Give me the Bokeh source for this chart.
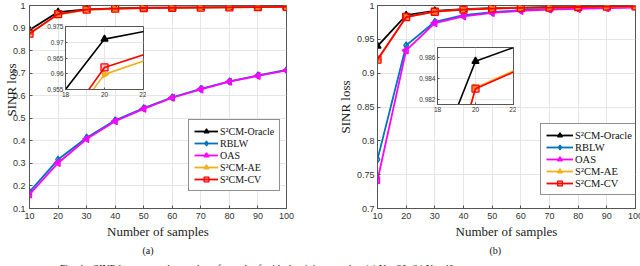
import numpy as np
from bokeh.plotting import figure
from bokeh.layouts import column
from bokeh.models import (Range1d, FixedTicker, Legend, LegendItem, Title,
                          GridBox, Div)
from bokeh.embed import file_html
from bokeh.resources import INLINE

# ---------------- data ----------------
samples = [10, 20, 30, 40, 50, 60, 70, 80, 90, 100]
series_names = ["S\u00b2CM-Oracle", "RBLW", "OAS", "S\u00b2CM-AE", "S\u00b2CM-CV"]

# panel (a)
oracle_a = [0.891, 0.971, 0.983, 0.987, 0.990, 0.991, 0.992, 0.993, 0.994, 0.995]
rblw_a = [0.174, 0.317, 0.414, 0.491, 0.545, 0.593, 0.630, 0.664, 0.690, 0.714]
oas_a = [0.162, 0.302, 0.408, 0.487, 0.542, 0.591, 0.628, 0.662, 0.688, 0.712]
ae_a = [0.877, 0.9598, 0.981, 0.985, 0.988, 0.990, 0.991, 0.992, 0.993, 0.994]
cv_a = [0.875, 0.962, 0.982, 0.986, 0.989, 0.990, 0.991, 0.992, 0.993, 0.994]

# panel (b)
oracle_b = [0.940, 0.9856, 0.9921, 0.9945, 0.996, 0.997, 0.9975, 0.998, 0.9985, 0.999]
rblw_b = [0.7726, 0.941, 0.9759, 0.9857, 0.990, 0.993, 0.995, 0.996, 0.997, 0.998]
oas_b = [0.7417, 0.9337, 0.974, 0.984, 0.989, 0.992, 0.994, 0.995, 0.996, 0.997]
ae_b = [0.920, 0.9831, 0.991, 0.994, 0.9955, 0.9965, 0.997, 0.9978, 0.9983, 0.9988]
cv_b = [0.920, 0.9830, 0.9908, 0.9938, 0.9955, 0.9965, 0.997, 0.9978, 0.9983, 0.9988]

# ticks
xticks_main = [10, 20, 30, 40, 50, 60, 70, 80, 90, 100]
yticks_a = [0.1, 0.2, 0.3, 0.4, 0.5, 0.6, 0.7, 0.8, 0.9, 1.0]
ylabels_a = ["0.1", "0.2", "0.3", "0.4", "0.5", "0.6", "0.7", "0.8", "0.9", "1"]
yticks_b = [0.7, 0.75, 0.8, 0.85, 0.9, 0.95, 1.0]
ylabels_b = ["0.7", "0.75", "0.8", "0.85", "0.9", "0.95", "1"]
xticks_inset = [18, 20, 22]
yticks_inset_a = [0.955, 0.96, 0.965, 0.97, 0.975]
ylabels_inset_a = ["0.955", "0.96", "0.965", "0.97", "0.975"]
yticks_inset_b = [0.982, 0.984, 0.986]
ylabels_inset_b = ["0.982", "0.984", "0.986"]

caption = ("Fig. 4.&nbsp;&nbsp; SINR loss versus the number of samples for ideal training "
           "samples: (a) N = 20, (b) N = 40.")

# ---------------- styles ----------------
colors = ["#000000", "#0072BD", "#FF00FF", "#EDB120", "#FF0000"]
markers = ["triangle", "diamond", "triangle", "triangle", "square"]
angles = [0.0, 0.0, np.pi / 2, -np.pi / 2, 0.0]
fill_alphas = [1.0, 0.35, 0.7, 1.0, 0.25]
AX = "#555555"
SANS = "Liberation Sans"
SERIF = "Liberation Serif"
GRID = "#e6e6e6"


def style_axes(p, font_size, standoff, tick_in=3):
    for ax in p.axis:
        ax.major_tick_in = tick_in
        ax.major_tick_out = 0
        ax.minor_tick_line_color = None
        ax.axis_line_color = AX
        ax.major_tick_line_color = AX
        ax.major_label_text_font = SANS
        ax.major_label_text_font_size = font_size
        ax.major_label_text_color = "#333333"
        ax.major_label_standoff = standoff
    p.outline_line_color = AX
    p.outline_line_width = 1
    p.xgrid.grid_line_color = GRID
    p.ygrid.grid_line_color = GRID


def draw_series(p, ys, lw=1.8, size=7):
    items = []
    for name, y, c, m, a, fa in zip(series_names, ys, colors, markers, angles, fill_alphas):
        r_line = p.line(samples, y, line_color=c, line_width=lw)
        r_mark = p.scatter(samples, y, marker=m, angle=a, size=size,
                           line_color=c, line_width=1.3, fill_color=c, fill_alpha=fa)
        items.append(LegendItem(label=name, renderers=[r_line, r_mark]))
    return items


def set_label(ax, lab, standoff):
    ax.axis_label = lab
    ax.axis_label_text_font = SERIF
    ax.axis_label_text_font_size = "13px"
    ax.axis_label_text_font_style = "normal"
    ax.axis_label_text_color = "#1a1a1a"
    ax.axis_label_standoff = standoff


def main_panel(ys, yrange, yticks, ylabels, border_left, border_right,
               tick_standoff, legend_loc, legend_font, glyph_w, sub_label,
               sub_offset, with_ylabel):
    p = figure(width=320, height=256, x_range=Range1d(10, 100),
               y_range=Range1d(*yrange), output_backend="svg",
               toolbar_location=None, min_border_left=border_left,
               min_border_right=border_right, min_border_top=5,
               min_border_bottom=47, background_fill_color="white",
               border_fill_color="white")
    p.xaxis.ticker = FixedTicker(ticks=xticks_main)
    p.yaxis.ticker = FixedTicker(ticks=yticks)
    p.yaxis.major_label_overrides = dict(zip(yticks, ylabels))
    style_axes(p, "9px", tick_standoff)
    p.xaxis.major_label_standoff = 4
    set_label(p.xaxis[0], "Number of samples", 2)
    if with_ylabel:
        set_label(p.yaxis[0], "SINR loss", 1)

    items = draw_series(p, ys)
    legend = Legend(items=items, location=legend_loc)
    legend.label_text_font = SERIF
    legend.label_text_font_size = legend_font
    legend.label_text_color = "#111111"
    legend.border_line_color = "#222222"
    legend.border_line_width = 1
    legend.background_fill_alpha = 1
    legend.glyph_width = glyph_w
    legend.glyph_height = 12
    legend.label_height = 12
    legend.label_standoff = 2
    legend.spacing = 0
    legend.padding = 5
    legend.margin = 0
    p.add_layout(legend)

    t = Title(text=sub_label, align="left", offset=sub_offset,
              text_font=SERIF, text_font_size="10px", text_font_style="normal",
              text_color="#111111", standoff=2)
    p.add_layout(t, "below")
    return p


def inset_panel(ys, yrange, yticks, ylabels, width, height, bl, bt):
    p = figure(width=width, height=height, x_range=Range1d(18, 22),
               y_range=Range1d(*yrange), output_backend="svg",
               toolbar_location=None, min_border_left=bl, min_border_right=3,
               min_border_top=bt, min_border_bottom=12,
               background_fill_color="white", border_fill_alpha=0)
    p.xaxis.ticker = FixedTicker(ticks=xticks_inset)
    p.yaxis.ticker = FixedTicker(ticks=yticks)
    p.yaxis.major_label_overrides = dict(zip(yticks, ylabels))
    style_axes(p, "6.5px", 2, tick_in=2)
    p.xaxis.major_label_standoff = 2
    draw_series(p, ys, lw=1.6, size=7)
    return p


pa = main_panel([oracle_a, rblw_a, oas_a, ae_a, cv_a], (0.1, 1.0),
                yticks_a, ylabels_a, 29, 34, 4, (159, 17), "10px", 24, "(a)",
                113, False)
pb = main_panel([oracle_b, rblw_b, oas_b, ae_b, cv_b], (0.7, 1.0),
                yticks_b, ylabels_b, 52, 10, 3, (163, 13), "10.5px", 27, "(b)",
                112, True)

# y-axis title of panel (a): a transparent overlay holding only the axis label
yl = figure(width=30, height=174, x_range=Range1d(0, 1), y_range=Range1d(0, 1),
            output_backend="svg", toolbar_location=None, x_axis_location=None,
            min_border_left=12, min_border_right=0, min_border_top=5,
            min_border_bottom=0, background_fill_alpha=0, border_fill_alpha=0,
            outline_line_color=None)
yl.grid.visible = False
yl.yaxis.ticker = FixedTicker(ticks=[])
yl.yaxis.major_tick_line_color = None
yl.yaxis.minor_tick_line_color = None
yl.yaxis.axis_line_color = None
yl.yaxis.major_label_standoff = 0
set_label(yl.yaxis[0], "SINR loss", 0)

ia = inset_panel([oracle_a, rblw_a, oas_a, ae_a, cv_a], (0.955, 0.975),
                 yticks_inset_a, ylabels_inset_a, 146, 101, 65, 26)
ib = inset_panel([oracle_b, rblw_b, oas_b, ae_b, cv_b], (0.9815, 0.9869),
                 yticks_inset_b, ylabels_inset_b, 191, 116, 112, 47)

cap = Div(text=caption, width=640, height=10,
          styles={"overflow": "hidden", "font-family": SERIF,
                  "font-size": "10px", "white-space": "nowrap",
                  "text-indent": "55px", "color": "#222222",
                  "line-height": "16px"})

layout = GridBox(children=[(column(pa), 0, 0), (column(yl), 0, 0),
                           (column(ia), 0, 0),
                           (column(pb), 0, 1), (column(ib), 0, 1),
                           (cap, 1, 0, 1, 2)], spacing=0)

open("out.html", "w").write(file_html(layout, INLINE))
